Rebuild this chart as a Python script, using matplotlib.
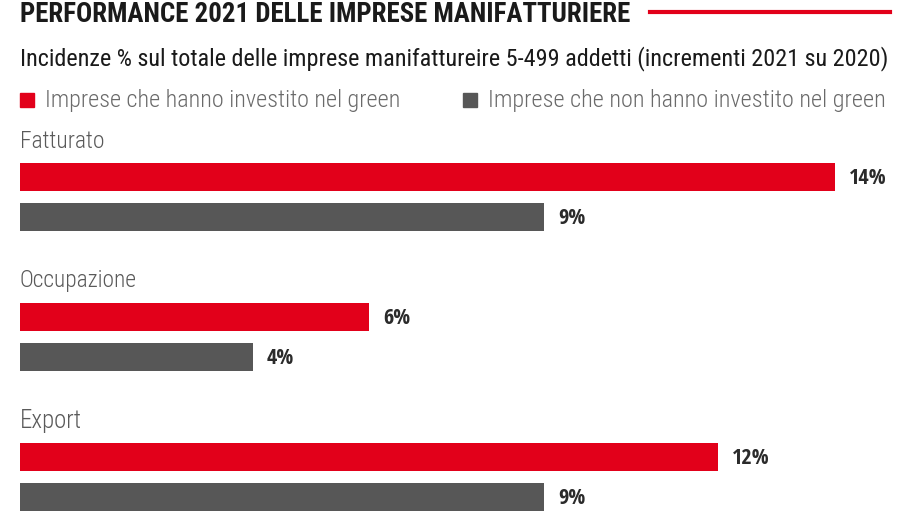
import matplotlib
matplotlib.use("Agg")
import matplotlib.pyplot as plt
from matplotlib.lines import Line2D
from matplotlib.patches import Rectangle

categories = ["Fatturato", "Occupazione", "Export"]
green_values = [14, 6, 12]
nongreen_values = [9, 4, 9]
series_labels = ["Imprese che hanno investito nel green",
                 "Imprese che non hanno investito nel green"]
title = "PERFORMANCE 2021 DELLE IMPRESE MANIFATTURIERE"
subtitle = "Incidenze % sul totale delle imprese manifattureire 5-499 addetti (incrementi 2021 su 2020)"

RED = "#E2001A"
GRAY = "#575757"
F_BOLD = ["Open Sans Condensed", "Roboto Condensed", "DejaVu Sans"]
F_MAIN = ["Roboto Condensed", "DejaVu Sans"]

W, H = 900, 512
fig = plt.figure(figsize=(W / 100, H / 100), dpi=100)
ax = fig.add_axes([0, 0, 1, 1])
PXU = 58.2  # pixels per percentage point
x0 = 20
ax.set_xlim(-x0 / PXU, (W - x0) / PXU)
ax.set_ylim(H, 0)
ax.axis("off")
renderer = fig.canvas.get_renderer()


def fit(t, target_px):
    """scale font size so that the text spans target_px pixels"""
    for _ in range(3):
        w = t.get_window_extent(renderer).width
        t.set_fontsize(t.get_fontsize() * target_px / w)
    return t.get_fontsize()


group_step = 140
first_red = 177
bar_h = 28
pair_gap = 40
label_w = {"Fatturato": 85, "Occupazione": 117, "Export": 62}

# size of value labels from the width of the widest label ("14%" ~ 37 px)
probe = ax.text(0, 0, "14%", fontsize=15, fontweight="bold", family=F_BOLD)
val_fs = fit(probe, 38)
probe.remove()

for i, cat in enumerate(categories):
    yr = first_red + i * group_step
    yg = yr + pair_gap
    ax.barh(yr, green_values[i], height=bar_h, color=RED, left=0)
    ax.barh(yg, nongreen_values[i], height=bar_h, color=GRAY, left=0)
    t = ax.text(0, yr - 36, cat, fontsize=14, color="#5a5a5a", va="center",
                ha="left", family=F_MAIN, fontweight=300)
    fit(t, label_w[cat])
    for v, y in [(green_values[i], yr), (nongreen_values[i], yg)]:
        ax.text(v + 14 / PXU, y + 1, f"{v}%", fontsize=val_fs, fontweight="bold",
                color="#2b2b2b", va="center", ha="left", family=F_BOLD)

# title
t = ax.text(0, 15, title, fontsize=15.5, fontweight="heavy", color="#1a1a1a",
            va="center", ha="left", family=F_MAIN)
fit(t, 610)
fig.add_artist(Line2D([650 / W, 890 / W], [1 - 12 / H, 1 - 12 / H], color=RED, lw=3))
t = ax.text(0, 59, subtitle, fontsize=14, color="#1a1a1a", va="center",
            ha="left", family=F_MAIN)
fit(t, 868)

# legend
for xs, col, lab, wpx in [(20, RED, series_labels[0], 355), (463, GRAY, series_labels[1], 398)]:
    fig.add_artist(Rectangle((xs / W, 1 - 107 / H), 14 / W, 14 / H, color=col,
                             transform=fig.transFigure))
    t = fig.text((xs + 25) / W, 1 - 100 / H, lab, fontsize=14, color="#6a6a6a",
                 va="center", ha="left", family=F_MAIN, fontweight=300)
    fit(t, wpx)

fig.savefig("out.png", dpi=100)
